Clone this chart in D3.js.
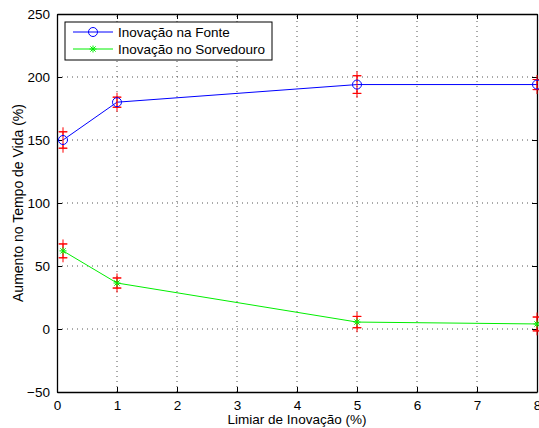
<!DOCTYPE html>
<html>
<head>
<meta charset="utf-8">
<script src="https://cdn.jsdelivr.net/npm/d3@7"></script>
<style>
  body { margin: 0; background: #fff; }
  text { font-family: "Liberation Sans", Arial, sans-serif; }
</style>
</head>
<body>
<div id="chart"></div>
<script>
var limiar = [0.1, 1, 5, 8]
var fonte = [150, 180, 194, 194]
var fonteErr = [6.5, 4, 7, 4]
var sorvedouro = [62, 36.5, 5.5, 4]
var sorvedouroErr = [5.5, 4, 4.5, 5.5]
var xTicks = [0, 1, 2, 3, 4, 5, 6, 7, 8]
var yTicks = [-50, 0, 50, 100, 150, 200, 250]
var seriesNames = ['Inovação na Fonte', 'Inovação no Sorvedouro']

var width = 539,
    height = 428,
    margin = {left: 57, right: 2, top: 14, bottom: 36},
    fs = 13.5

var svg = d3.select('#chart').append('svg')
  .attr('width', width)
  .attr('height', height)

var x = d3.scaleLinear().domain([0, 8]).range([margin.left, width - margin.right])
var y = d3.scaleLinear().domain([-50, 250]).range([height - margin.bottom, margin.top])

// grid
svg.append('g').selectAll('line').data(xTicks.slice(1, -1)).enter().append('line')
  .attr('x1', d => x(d)).attr('x2', d => x(d))
  .attr('y1', y(-50)).attr('y2', y(250))
  .attr('stroke', '#555').attr('stroke-width', 1).attr('stroke-dasharray', '1,4')
svg.append('g').selectAll('line').data(yTicks.slice(1, -1)).enter().append('line')
  .attr('y1', d => y(d)).attr('y2', d => y(d))
  .attr('x1', x(0)).attr('x2', x(8))
  .attr('stroke', '#555').attr('stroke-width', 1).attr('stroke-dasharray', '1,4')

// axes (ticks inward)
var xAxis = svg.append('g').attr('transform', 'translate(0,' + y(-50) + ')')
  .call(d3.axisBottom(x).tickValues(xTicks).tickSizeInner(-5).tickSizeOuter(0).tickPadding(8))
var xAxisTop = svg.append('g').attr('transform', 'translate(0,' + y(250) + ')')
  .call(d3.axisTop(x).tickValues(xTicks).tickSizeInner(-5).tickSizeOuter(0).tickFormat(''))
var yAxis = svg.append('g').attr('transform', 'translate(' + x(0) + ',0)')
  .call(d3.axisLeft(y).tickValues(yTicks).tickSizeInner(-5).tickSizeOuter(0).tickPadding(8)
    .tickFormat(d => d < 0 ? '\u2212' + Math.abs(d) : d))
var yAxisRight = svg.append('g').attr('transform', 'translate(' + x(8) + ',0)')
  .call(d3.axisRight(y).tickValues(yTicks).tickSizeInner(-5).tickSizeOuter(0).tickFormat(''))

svg.selectAll('.domain').attr('stroke', '#000').attr('stroke-width', 1.3)
svg.selectAll('.tick line').attr('stroke', '#000')
svg.selectAll('.tick text').attr('font-size', fs).attr('fill', '#000')
  .style('font-family', '"Liberation Sans", Arial, sans-serif')
yAxis.selectAll('.tick text').attr('dx', 1)

// labels
svg.append('text').attr('x', x(4)).attr('y', height - 4)
  .attr('text-anchor', 'middle').attr('font-size', fs).text('Limiar de Inovação (%)')
svg.append('text').attr('transform', 'translate(23,' + y(100) + ')rotate(-90)')
  .attr('text-anchor', 'middle').attr('font-size', 14).text('Aumento no Tempo de Vida (%)')

var line = d3.line().x((d, i) => x(limiar[i])).y(d => y(d))

function plus(g, cx, cy, s, color) {
  g.append('path')
    .attr('d', 'M' + (cx - s) + ',' + cy + 'H' + (cx + s) + 'M' + cx + ',' + (cy - s) + 'V' + (cy + s))
    .attr('stroke', color).attr('stroke-width', 1).attr('fill', 'none')
}

function star(g, cx, cy, s, color) {
  var d = 'M' + (cx - s) + ',' + cy + 'H' + (cx + s) + 'M' + cx + ',' + (cy - s) + 'V' + (cy + s)
  var k = s * 0.75
  d += 'M' + (cx - k) + ',' + (cy - k) + 'L' + (cx + k) + ',' + (cy + k)
  d += 'M' + (cx - k) + ',' + (cy + k) + 'L' + (cx + k) + ',' + (cy - k)
  g.append('path').attr('d', d).attr('stroke', color).attr('stroke-width', 1).attr('fill', 'none')
}

function drawSeries(vals, errs, color, marker) {
  var g = svg.append('g')
  g.append('path').datum(vals).attr('d', line)
    .attr('fill', 'none').attr('stroke', color).attr('stroke-width', 1)
  vals.forEach(function (v, i) {
    var cx = x(limiar[i])
    var top = y(v + errs[i]), bot = y(v - errs[i])
    g.append('line').attr('x1', cx).attr('x2', cx).attr('y1', top).attr('y2', bot)
      .attr('stroke', 'red').attr('stroke-width', 1)
    g.append('line').attr('x1', cx - 4).attr('x2', cx + 4).attr('y1', top).attr('y2', top)
      .attr('stroke', 'red')
    g.append('line').attr('x1', cx - 4).attr('x2', cx + 4).attr('y1', bot).attr('y2', bot)
      .attr('stroke', 'red')
    plus(g, cx, top, 4.5, 'red')
    plus(g, cx, bot, 4.5, 'red')
    if (marker === 'o') {
      g.append('circle').attr('cx', cx).attr('cy', y(v)).attr('r', 4.5)
        .attr('fill', 'none').attr('stroke', color).attr('stroke-width', 1)
    } else {
      star(g, cx, y(v), 3.5, color)
    }
  })
}

drawSeries(fonte, fonteErr, '#0000ff', 'o')
drawSeries(sorvedouro, sorvedouroErr, '#00ee00', '*')

// legend
var leg = svg.append('g').attr('transform', 'translate(65,22)')
leg.append('rect').attr('width', 207).attr('height', 38)
  .attr('fill', '#fff').attr('stroke', '#000').attr('stroke-width', 1)
var legColors = ['#0000ff', '#00ee00']
seriesNames.forEach(function (name, i) {
  var yy = 10 + i * 17
  leg.append('line').attr('x1', 8).attr('x2', 48).attr('y1', yy).attr('y2', yy)
    .attr('stroke', legColors[i])
  if (i === 0) {
    leg.append('circle').attr('cx', 28).attr('cy', yy).attr('r', 4.5)
      .attr('fill', 'none').attr('stroke', legColors[i])
  } else {
    star(leg, 28, yy, 3.5, legColors[i])
  }
  leg.append('text').attr('x', 53).attr('y', yy + 5).attr('font-size', fs).text(name)
})
</script>
</body>
</html>
